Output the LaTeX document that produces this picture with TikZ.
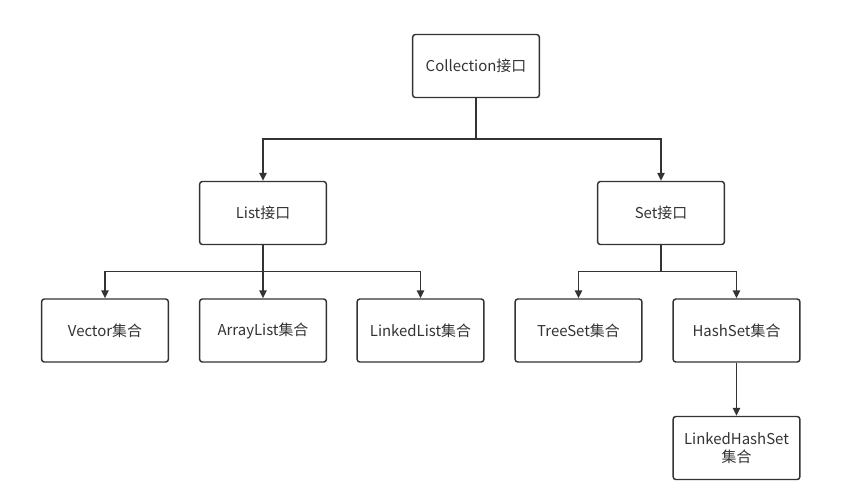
\documentclass[tikz,border=0pt]{standalone}
\usepackage{fontspec}
\setmainfont{Noto Sans CJK SC}
\usetikzlibrary{arrows.meta}

\definecolor{lineGray}{RGB}{51,51,51}
\tikzset{every picture/.style={line width=1.1pt}}
\tikzset{
	classbox/.style={draw=lineGray, rounded corners=2pt, minimum width=95pt, minimum height=47.25pt, inner sep=0pt, align=center, font=\fontsize{11.2}{14}\selectfont, text=lineGray},
	arr/.style={draw=lineGray, -{Triangle[length=6pt,width=5.5pt]}},
	link/.style={draw=lineGray}
}

\begin{document}
\begin{tikzpicture}[x=0.75pt,y=0.75pt,yscale=-1,xscale=1]
	\path[use as bounding box] (0,0) rectangle (867,494);

	% Boxes
	\node[classbox] (coll) at (476,66) {Collection接口};
	\node[classbox] (list) at (263,213) {List接口};
	\node[classbox] (set) at (661,213) {Set接口};
	\node[classbox] (vector) at (105,330.5) {Vector集合};
	\node[classbox] (arraylist) at (263,330.5) {ArrayList集合};
	\node[classbox] (linkedlist) at (420.5,330.5) {LinkedList集合};
	\node[classbox] (treeset) at (578.5,330.5) {TreeSet集合};
	\node[classbox] (hashset) at (736.5,330.5) {HashSet集合};
	\node[classbox] (linkedhashset) at (736.5,448) {LinkedHashSet\\集合};

	% Junctions
	\coordinate (cj) at (476,139);
	\coordinate (lj) at (263,271.5);
	\coordinate (sj) at (661,271.5);

	% Collection -> List, Set
	\draw[link] (coll.south) -- (cj);
	\draw[arr] (cj) -| (list.north);
	\draw[arr] (cj) -| (set.north);

	% List -> Vector, ArrayList, LinkedList
	\draw[arr] (list.south) -- (arraylist.north);
	\draw[arr] (lj) -| (vector.north);
	\draw[arr] (lj) -| (linkedlist.north);

	% Set -> TreeSet, HashSet
	\draw[link] (set.south) -- (sj);
	\draw[arr] (sj) -| (treeset.north);
	\draw[arr] (sj) -| (hashset.north);

	% HashSet -> LinkedHashSet
	\draw[arr] (hashset.south) -- (linkedhashset.north);

\end{tikzpicture}
\end{document}
